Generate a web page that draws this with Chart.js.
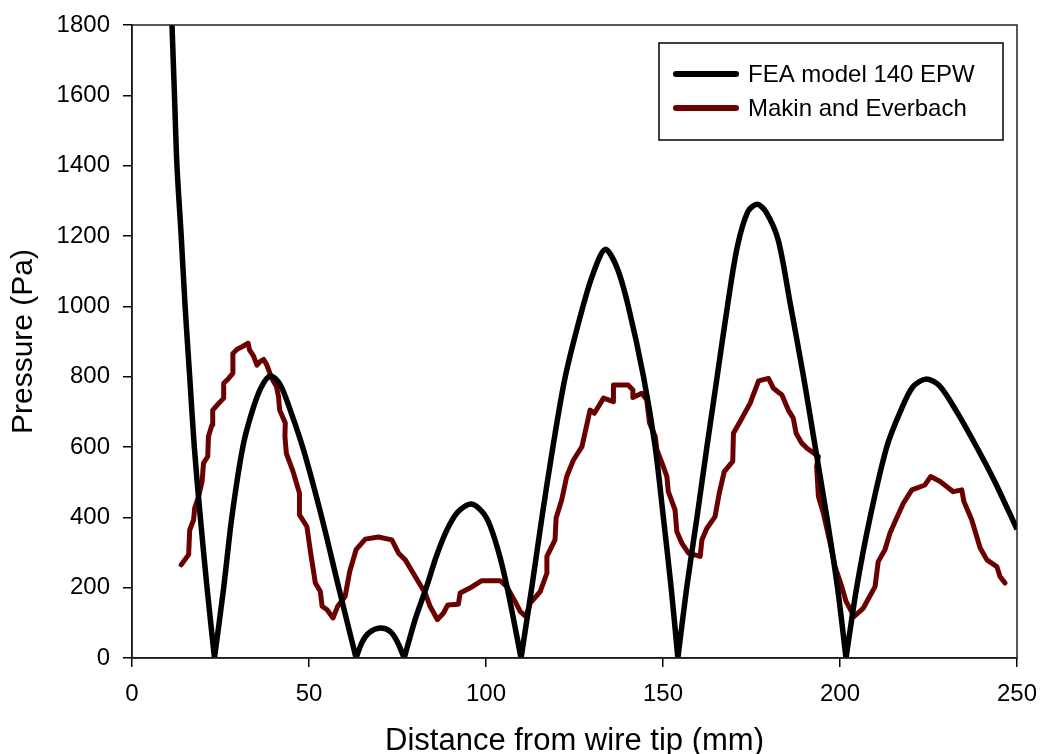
<!DOCTYPE html>
<html lang="en">
<head>
    <meta charset="UTF-8">
    <title>Pressure vs distance</title>
    <script src="https://cdn.jsdelivr.net/npm/chart.js"></script>
    <style>
        html, body { margin: 0; padding: 0; background: #fff; }
        #wrap { width: 1042px; height: 754px; }
    </style>
</head>
<body>
    <div id="wrap"><canvas id="pressureChart" width="1042" height="754"></canvas></div>
    <script>
        // FEA model 140 EPW (mm, Pa) - zeros are listed twice so the curve keeps its sharp dips
        const feaX = [11.3, 12.0, 12.7, 13.9, 15.0, 16.3, 17.6, 19.3, 21.2, 23.3, 23.3,
            25.9, 28.2, 31.3, 33.9, 36.5, 39.1, 41.8, 44.7, 48.5, 53.6, 58.4, 63.3, 63.3,
            65.0, 67.0, 70.1, 73.0, 75.0, 76.9, 76.9,
            80.0, 83.3, 86.0, 89.0, 92.0, 95.8, 99.0, 101.2, 104.0, 106.4, 109.9, 109.9,
            113.0, 115.8, 118.9, 122.4, 127.4, 130.5, 133.7, 137.0, 140.2, 144.5, 147.8, 150.1, 152.3, 154.2, 154.2,
            156.7, 159.6, 162.4, 165.3, 168.2, 171.0, 174.0, 176.6, 179.0, 182.5, 185.9, 189.7, 193.0, 196.3, 199.3, 201.7, 201.7,
            204.7, 208.5, 213.2, 217.0, 220.5, 224.2, 228.0, 233.0, 238.6, 243.8, 250.0];
        const feaY = [1800, 1600, 1400, 1200, 1000, 800, 600, 400, 200, 0, 0,
            200, 400, 600, 700, 770, 802, 778, 705, 590, 400, 200, 0, 0,
            45, 72, 85, 75, 45, 0, 0,
            110, 205, 290, 365, 415, 438, 415, 375, 285, 180, 0, 0,
            205, 400, 600, 800, 1000, 1100, 1162, 1110, 1000, 800, 600, 400, 200, 0, 0,
            200, 400, 600, 800, 1000, 1170, 1270, 1290, 1270, 1190, 1010, 800, 600, 400, 200, 0, 0,
            200, 400, 600, 700, 770, 793, 775, 700, 600, 500, 366];

        // Makin and Everbach measurements
        const makinX = [13.9, 16.0, 16.3, 17.4, 17.7, 18.8, 19.8, 20.2, 21.4, 21.6, 22.6, 22.8, 24.5, 25.9, 25.9,
            27.3, 28.5, 28.5, 29.7, 31.1, 32.8, 33.2, 34.3, 35.3, 36.2, 37.2, 38.1, 39.5, 40.8, 41.4, 41.7,
            43.3, 43.2, 43.6, 45.5, 47.3, 47.3, 49.4, 50.4, 51.8, 53.2, 53.7, 55.1, 56.8, 58.1, 60.2, 61.5,
            63.3, 65.9, 69.6, 73.4, 75.3, 77.2, 80.0, 82.8, 84.2, 86.3, 88.0, 89.2, 92.2, 92.7, 96.0, 98.8,
            104.0, 105.9, 108.2, 109.7, 111.3, 112.5, 115.3, 117.2, 117.2, 119.5, 119.8, 121.4, 122.8, 124.7,
            127.1, 129.4, 130.6, 133.2, 136.0, 136.0, 140.2, 141.5, 141.5, 144.0, 145.4, 146.2, 147.8, 148.3,
            150.1, 151.1, 151.5, 153.4, 153.9, 155.3, 157.2, 160.5, 161.0, 162.4, 164.7, 165.9, 167.3, 169.7,
            169.9, 172.3, 174.6, 177.0, 179.8, 181.2, 183.6, 185.4, 186.8, 187.6, 189.2, 190.6, 193.9, 193.4,
            193.9, 195.3, 197.2, 198.6, 200.5, 201.7, 204.0, 206.6, 209.9, 210.8, 212.7, 214.1, 216.0, 217.9,
            220.3, 224.0, 225.6, 228.3, 232.0, 234.4, 235.0, 237.2, 239.6, 241.5, 244.3, 245.2, 246.6];
        const makinY = [265, 294, 364, 393, 426, 459, 502, 554, 573, 630, 663, 705, 724, 739, 781,
            795, 810, 866, 878, 885, 895, 876, 859, 833, 843, 849, 833, 795, 772, 743, 705,
            668, 630, 582, 530, 469, 407, 374, 303, 213, 189, 147, 137, 114, 147, 175, 246,
            308, 338, 344, 336, 298, 279, 232, 185, 147, 109, 128, 151, 153, 185, 202, 220,
            220, 203, 161, 132, 118, 156, 189, 241, 289, 336, 398, 450, 516, 563,
            601, 705, 696, 739, 729, 776, 776, 762, 741, 753, 734, 668, 630, 592,
            544, 516, 473, 421, 360, 327, 298, 289, 336, 369, 402, 469, 530, 559,
            639, 682, 724, 788, 795, 767, 748, 705, 682, 639, 611, 597, 573, 544,
            459, 412, 327, 260, 203, 161, 118, 142, 203, 274, 308, 355, 398, 440,
            478, 492, 516, 502, 473, 478, 445, 393, 313, 279, 260, 232, 213];

        const xTicks = [0, 50, 100, 150, 200, 250];
        const yTicks = [0, 200, 400, 600, 800, 1000, 1200, 1400, 1600, 1800];

        const seriesNames = ['FEA model 140 EPW', 'Makin and Everbach'];
        const seriesColors = ['#000000', '#6b0000'];

        const toPoints = (xs, ys) => xs.map((x, i) => ({ x: x, y: ys[i] }));

        Chart.defaults.font.family = '"Liberation Sans", Arial, sans-serif';
        Chart.defaults.color = '#000';

        // box round the plot area
        const frame = {
            id: 'frame',
            afterDatasetsDraw(chart) {
                const { ctx, chartArea: a } = chart;
                ctx.save();
                ctx.strokeStyle = '#222';
                ctx.lineWidth = 1.5;
                ctx.strokeRect(a.left, a.top, a.right - a.left, a.bottom - a.top);
                ctx.restore();
            }
        };

        // legend in a box, top right inside the plot
        const boxLegend = {
            id: 'boxLegend',
            afterDraw(chart) {
                const { ctx, chartArea: a } = chart;
                const left = a.right - 358, top = a.top + 18, w = 344, h = 97;
                ctx.save();
                ctx.fillStyle = '#fff';
                ctx.fillRect(left, top, w, h);
                ctx.strokeStyle = '#000';
                ctx.lineWidth = 1.5;
                ctx.strokeRect(left, top, w, h);
                ctx.font = '24px "Liberation Sans", Arial, sans-serif';
                ctx.textBaseline = 'middle';
                chart.data.datasets.forEach((ds, i) => {
                    const y = top + 31 + i * 34;
                    ctx.strokeStyle = ds.borderColor;
                    ctx.lineWidth = 6;
                    ctx.lineCap = 'round';
                    ctx.beginPath();
                    ctx.moveTo(left + 17, y);
                    ctx.lineTo(left + 77, y);
                    ctx.stroke();
                    ctx.fillStyle = '#000';
                    ctx.fillText(ds.label, left + 89, y + 1);
                });
                ctx.restore();
            }
        };

        const ctx = document.getElementById('pressureChart').getContext('2d');
        new Chart(ctx, {
            type: 'line',
            data: {
                datasets: [
                    {
                        label: seriesNames[0],
                        data: toPoints(feaX, feaY),
                        borderColor: seriesColors[0],
                        borderWidth: 5.5,
                        pointRadius: 0,
                        tension: 0.3,
                        borderJoinStyle: 'round'
                    },
                    {
                        label: seriesNames[1],
                        data: toPoints(makinX, makinY),
                        borderColor: seriesColors[1],
                        borderWidth: 5,
                        pointRadius: 0,
                        tension: 0,
                        borderJoinStyle: 'round',
                        borderCapStyle: 'round'
                    }
                ]
            },
            options: {
                responsive: false,
                animation: false,
                layout: { padding: { top: 25, right: 25, left: 0, bottom: 0 } },
                plugins: {
                    legend: { display: false },
                    tooltip: { enabled: false }
                },
                scales: {
                    x: {
                        type: 'linear',
                        min: 0,
                        max: 250,
                        afterBuildTicks: s => { s.ticks = xTicks.map(v => ({ value: v })); },
                        afterFit: s => { s.height = 96; s.paddingLeft = 0; s.paddingRight = 0; },
                        grid: { drawOnChartArea: false, drawTicks: true, tickLength: 9, tickColor: '#000', lineWidth: 1.5 },
                        border: { display: true, color: '#000', width: 1.5 },
                        ticks: { font: { size: 24 }, padding: 13, maxRotation: 0, callback: v => String(v) },
                        title: { display: true, text: 'Distance from wire tip (mm)', font: { size: 31, lineHeight: 0.8 }, padding: { bottom: 0 } }
                    },
                    y: {
                        min: 0,
                        max: 1800,
                        afterBuildTicks: s => { s.ticks = yTicks.map(v => ({ value: v })); },
                        afterFit: s => { s.width = 132; s.paddingTop = 0; s.paddingBottom = 0; },
                        grid: { drawOnChartArea: false, drawTicks: true, tickLength: 9, tickColor: '#000', lineWidth: 1.5 },
                        border: { display: true, color: '#000', width: 1.5 },
                        ticks: { font: { size: 24 }, padding: 13, callback: v => String(v) },
                        title: { display: true, text: 'Pressure (Pa)', font: { size: 30, lineHeight: 0.8 }, padding: { top: 12 } }
                    }
                }
            },
            plugins: [frame, boxLegend]
        });
    </script>
</body>
</html>
